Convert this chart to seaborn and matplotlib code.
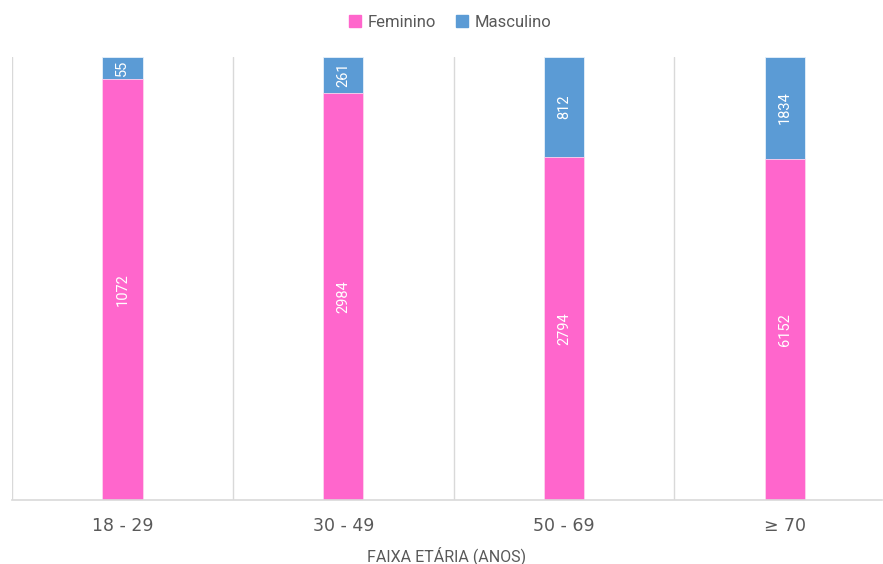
import numpy as np
import pandas as pd
import matplotlib
matplotlib.use('Agg')
import matplotlib.pyplot as plt
import matplotlib.patches as mpatches
import seaborn as sns

# data
categorias = ['18 - 29', '30 - 49', '50 - 69', '≥ 70']
feminino = [1072, 2984, 2794, 6152]
masculino = [55, 261, 812, 1834]

cor_fem = '#FF66CC'
cor_masc = '#5B9BD5'

df = pd.DataFrame({'faixa': categorias, 'Feminino': feminino, 'Masculino': masculino})
df['total'] = df['Feminino'] + df['Masculino']
df['pct_fem'] = df['Feminino'] / df['total']
df['pct_tot'] = df['total'] / df['total']

sns.set_style('white')
plt.rcParams['font.family'] = ['Roboto', 'DejaVu Sans']

fig = plt.figure(figsize=(8.83, 5.64), dpi=100)
ax = fig.add_axes([12 / 883, 64 / 564, 870 / 883, 443 / 564])

# 100% stacked: full blue bar, then female share on top of it
sns.barplot(data=df, x='faixa', y='pct_tot', color=cor_masc, width=0.183,
            edgecolor='#e6f0fa', linewidth=0.6, saturation=1, ax=ax)
sns.barplot(data=df, x='faixa', y='pct_fem', color=cor_fem, width=0.183,
            edgecolor='#ffd6ef', linewidth=0.6, saturation=1, ax=ax)

for i, row in df.iterrows():
    ax.text(i, row['pct_fem'] / 2, str(row['Feminino']), rotation=90,
            ha='center', va='center', color='white', fontsize=10.5)
    ax.text(i, row['pct_fem'] + (1 - row['pct_fem']) / 2, str(row['Masculino']),
            rotation=90, ha='center', va='center', color='white', fontsize=10.5)

ax.set_xlim(-0.5, 3.44)
ax.set_ylim(0, 1)
for x in [-0.5, 0.5, 1.5, 2.5]:
    ax.axvline(x, color='#d9d9d9', linewidth=1, zorder=0)

sns.despine(ax=ax, left=True, top=True, right=True)
ax.spines['bottom'].set_color('#d9d9d9')
ax.spines['bottom'].set_linewidth(1.2)
ax.set_yticks([])
ax.set_ylabel('')
ax.tick_params(axis='x', length=0, pad=12, labelsize=12.5, labelcolor='#595959')
for lab in ax.get_xticklabels():
    lab.set_family(['DejaVu Sans'])
ax.set_xlabel('FAIXA ETÁRIA (ANOS)', fontsize=11.5, color='#595959', labelpad=8)

handles = [mpatches.Patch(color=cor_fem, label='Feminino'),
           mpatches.Patch(color=cor_masc, label='Masculino')]
fig.legend(handles=handles, loc='upper center', bbox_to_anchor=(0.51, 1.0), ncol=2,
           frameon=False, fontsize=12, labelcolor='#595959', handlelength=0.7,
           handleheight=0.7, handletextpad=0.4, columnspacing=1.2)

fig.savefig('out.png', dpi=100)
